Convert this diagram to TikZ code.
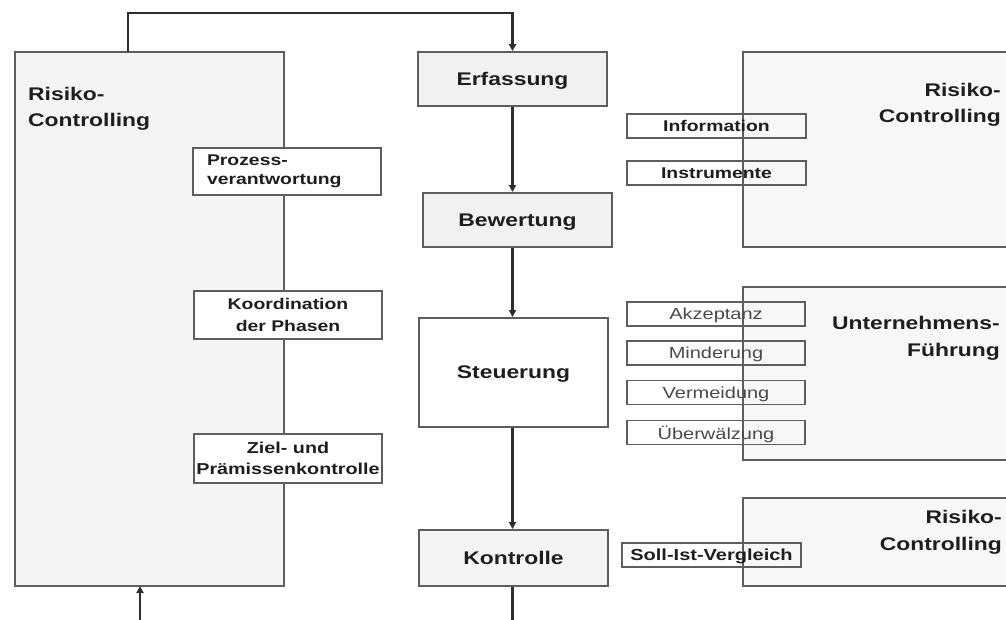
\documentclass[tikz,border=0pt]{standalone}
\usepackage{fontspec}
\setmainfont{Liberation Sans}[FakeStretch=1.25]
\usetikzlibrary{arrows.meta}

\definecolor{edge}{HTML}{5E5E5E}
\definecolor{wire}{HTML}{2E2E2E}
\definecolor{ink}{HTML}{1E1E1E}
\definecolor{softink}{HTML}{4A4A4A}
\definecolor{panel}{HTML}{F4F4F4}
\definecolor{phase}{HTML}{F1F1F1}
\definecolor{sidepanel}{HTML}{F7F7F7}

\begin{document}
\begin{tikzpicture}[x=1pt,y=-1pt,
  panelbox/.style={draw=edge, line width=1.9pt, inner sep=0pt},
  phasebox/.style={panelbox, minimum width=189pt, text=ink, text depth=0pt,
    font=\fontsize{18.3}{22}\selectfont\bfseries},
  tagbox/.style={draw=edge, line width=1.8pt, inner sep=0pt, text=ink,
    font=\fontsize{16}{20}\selectfont\bfseries},
  notebox/.style={draw=edge, line width=1.7pt, inner sep=0pt,
    minimum width=179pt, minimum height=24pt, text=ink, text depth=0pt,
    font=\fontsize{15.5}{18}\selectfont\bfseries},
  measurebox/.style={draw=edge, line width=1.6pt, inner sep=0pt,
    minimum width=178pt, minimum height=24pt, text=softink, text depth=0pt,
    font=\fontsize{16}{18}\selectfont},
  title/.style={inner sep=0pt, text=ink,
    font=\fontsize{18.3}{26}\selectfont\bfseries},
  wireline/.style={draw=wire, line width=2.4pt},
  tip/.style={-{Triangle[length=7pt,width=7pt]}}
]
\useasboundingbox (0,0) rectangle (1006,620);
\clip (0,0) rectangle (1006,620);
\fill[white] (0,0) rectangle (1006,620);

% left panel: risk controlling with its three tasks
\node[panelbox, fill=panel, minimum width=269pt, minimum height=534pt] (lb) at (149.5,319) {};
\node[title, anchor=north west, align=left] (lbt) at (28,87) {Risiko-\\Controlling};
\node[tagbox, fill=white, minimum width=188pt, minimum height=47pt,
  text width=160pt, align=left, font=\fontsize{15.5}{19.5}\selectfont\bfseries] (pv) at (287,171.5) {Prozess-\\verantwortung};
\node[tagbox, fill=white, minimum width=188pt, minimum height=48pt, align=center,
  font=\fontsize{15.5}{22}\selectfont\bfseries] (kp) at (288,315) {Koordination\\der Phasen};
\node[tagbox, fill=white, minimum width=188pt, minimum height=49pt, align=center,
  font=\fontsize{15.8}{21}\selectfont\bfseries] (zp) at (288,458.5) {Ziel- und\\Prämissenkontrolle};

% right panels
\node[panelbox, fill=sidepanel, minimum width=300pt, minimum height=195pt] (rt) at (893,149.5) {};
\node[title, anchor=north east, align=right] (rtt) at (1001,83) {Risiko-\\Controlling};
\node[panelbox, fill=sidepanel, minimum width=300pt, minimum height=173pt] (rm) at (893,373.5) {};
\node[title, anchor=north east, align=right, font=\fontsize{18.3}{27}\selectfont\bfseries] (rmt) at (1000,316) {Unternehmens-\\Führung};
\node[panelbox, fill=sidepanel, minimum width=300pt, minimum height=88pt] (rb) at (893,542) {};
\node[title, anchor=north east, align=right, font=\fontsize{18.3}{27}\selectfont\bfseries] (rbt) at (1002,510) {Risiko-\\Controlling};

% process phases
\node[phasebox, fill=phase, minimum height=54pt] (erf) at (512.5,79) {Erfassung};
\node[phasebox, fill=phase, minimum height=54pt] (bew) at (517.5,220) {Bewertung};
\node[phasebox, fill=white, minimum height=109pt] (steu) at (513.5,372.5) {Steuerung};
\node[phasebox, fill=panel, minimum height=56pt] (kon) at (513.5,558) {Kontrolle};

% labels between phases and panels
\node[notebox] (info) at (716.5,126) {Information};
\node[notebox] (instr) at (716.5,173) {Instrumente};
\node[measurebox] (akz) at (716,314) {Akzeptanz};
\node[measurebox] (mind) at (716,353) {Minderung};
\node[measurebox] (verm) at (716,392.5) {Vermeidung};
\node[measurebox] (uebw) at (716,432.5) {Überwälzung};
\node[notebox, font=\fontsize{16}{18}\selectfont\bfseries] (soll) at (711.5,555) {Soll-Ist-Vergleich};

% phase sequence
\draw[wireline, tip] (erf.south) -- (erf.south |- bew.north);
\draw[wireline, tip] (erf.south |- bew.south) -- (erf.south |- steu.north);
\draw[wireline, tip] (erf.south |- steu.south) -- (erf.south |- kon.north);

% feedback loops
\coordinate (lbtap) at (128,52);
\draw[wireline, tip] (lbtap) -- ++(0,-39) -| (erf.north);
\coordinate (lbin) at (140,586);
\coordinate (loopcorner) at (140,640);
\draw[wireline, tip] (erf.south |- kon.south) |- (loopcorner) -- (lbin);
\end{tikzpicture}
\end{document}
